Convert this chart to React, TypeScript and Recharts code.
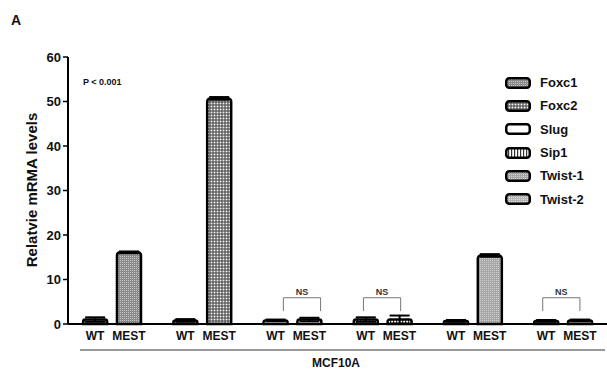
import React from 'react';
import {
  BarChart,
  Bar,
  Cell,
  XAxis,
  YAxis,
  ErrorBar,
  ReferenceLine,
} from 'recharts';

const genes = ['Foxc1', 'Foxc2', 'Slug', 'Sip1', 'Twist-1', 'Twist-2'];
const groups = ['WT', 'MEST'];
const wtValues = [1.0, 0.8, 0.8, 1.0, 0.7, 0.7];
const mestValues = [16.1, 50.7, 1.0, 1.0, 15.4, 0.8];
const wtErr = [0.5, 0.3, 0.2, 0.5, 0.2, 0.2];
const mestErr = [0.2, 0.3, 0.4, 0.9, 0.3, 0.2];
const yTicks = [0, 10, 20, 30, 40, 50, 60];
const nsGenes = ['Slug', 'Sip1', 'Twist-2'];

const patternIds = ['pFoxc1', 'pFoxc2', 'pSlug', 'pSip1', 'pTwist1', 'pTwist2'];

const FONT = '"Liberation Sans", Arial, sans-serif';

// x position of each bar on a numeric axis: 8 units per gene, MEST 3 units after WT
const data = genes.flatMap((g, i) => [
  { pos: i * 8, label: groups[0], gene: g, value: wtValues[i], err: wtErr[i], gi: i },
  { pos: i * 8 + 3, label: groups[1], gene: g, value: mestValues[i], err: mestErr[i], gi: i },
]);

const labelByPos: Record<number, string> = {};
data.forEach((d) => (labelByPos[d.pos] = d.label));

function Patterns() {
  return (
    <svg width={0} height={0} style={{ position: 'absolute' }}>
      <defs>
        <pattern id="pFoxc1" width={2} height={2} patternUnits="userSpaceOnUse">
          <rect width={2} height={2} fill="#8a8a8a" />
          <rect width={1} height={1} fill="#c4c4c4" />
        </pattern>
        <pattern id="pFoxc2" width={3} height={3} patternUnits="userSpaceOnUse">
          <rect width={3} height={3} fill="#3a3a3a" />
          <rect x={0.5} y={0.5} width={2} height={2} fill="#f4f4f4" />
        </pattern>
        <pattern id="pSlug" width={4} height={4} patternUnits="userSpaceOnUse">
          <rect width={4} height={4} fill="#fff" />
        </pattern>
        <pattern id="pSip1" width={3} height={3} patternUnits="userSpaceOnUse">
          <rect width={3} height={3} fill="#fff" />
          <rect width={1.2} height={3} fill="#333" />
        </pattern>
        <pattern id="pTwist1" width={2} height={2} patternUnits="userSpaceOnUse">
          <rect width={2} height={2} fill="#a6a6a6" />
          <rect width={1} height={1} fill="#d0d0d0" />
        </pattern>
        <pattern id="pTwist2" width={2} height={2} patternUnits="userSpaceOnUse">
          <rect width={2} height={2} fill="#b4b4b4" />
          <rect width={1} height={1} fill="#dedede" />
        </pattern>
      </defs>
    </svg>
  );
}

const textBold = { fontFamily: FONT, fontWeight: 700, color: '#111' };

export default function App() {
  return (
    <div style={{ position: 'absolute', left: 0, top: 0, width: 607, height: 372, background: '#fff' }}>
      <Patterns />
      <BarChart
        width={607}
        height={372}
        data={data}
        margin={{ top: 57, right: 0, bottom: 18, left: 18 }}
      >
        <XAxis
          dataKey="pos"
          type="number"
          domain={[-2.4, 45.4]}
          ticks={data.map((d) => d.pos)}
          tickFormatter={(v: number) => labelByPos[v] ?? ''}
          tickLine={false}
          axisLine={{ stroke: '#000', strokeWidth: 2 }}
          tick={{ fill: '#111', fontSize: 12, fontWeight: 700, fontFamily: FONT }}
          tickMargin={1}
          height={30}
          allowDataOverflow
        />
        <YAxis
          domain={[0, 60]}
          ticks={yTicks}
          width={50}
          axisLine={{ stroke: '#000', strokeWidth: 2 }}
          tickLine={{ stroke: '#000', strokeWidth: 1.5 }}
          tickSize={5}
          tick={{ fill: '#111', fontSize: 13, fontWeight: 700, fontFamily: FONT }}
          tickMargin={2}
        />
        <Bar dataKey="value" barSize={24} stroke="#000" strokeWidth={2.5} radius={[3, 3, 0, 0]} isAnimationActive={false}>
          {data.map((d, idx) => (
            <Cell key={idx} fill={`url(#${patternIds[d.gi]})`} />
          ))}
          <ErrorBar dataKey="err" direction="y" width={10} stroke="#000" strokeWidth={2} />
        </Bar>
        {nsGenes.map((g) => {
          const i = genes.indexOf(g);
          const shift = g === 'Slug' ? 0.7 : g === 'Twist-2' ? -0.3 : -0.2;
          const x1 = i * 8 + shift;
          const x2 = i * 8 + 3 + shift + 0.3;
          return (
            <React.Fragment key={g}>
              <ReferenceLine
                segment={[{ x: x1, y: 5.9 }, { x: x2, y: 5.9 }]}
                stroke="#777"
                strokeWidth={1}
                label={{ value: 'NS', position: 'top', fill: '#333', fontSize: 9, fontWeight: 700, fontFamily: FONT, offset: 3 }}
              />
              <ReferenceLine segment={[{ x: x1, y: 5.9 }, { x: x1, y: 2.9 }]} stroke="#777" strokeWidth={1} />
              <ReferenceLine segment={[{ x: x2, y: 5.9 }, { x: x2, y: 2.9 }]} stroke="#777" strokeWidth={1} />
            </React.Fragment>
          );
        })}
      </BarChart>

      <div style={{ ...textBold, position: 'absolute', left: 11, top: 12, fontSize: 14 }}>A</div>
      <div style={{ ...textBold, position: 'absolute', left: 83, top: 77, fontSize: 9 }}>P &lt; 0.001</div>
      <div
        style={{
          ...textBold,
          position: 'absolute',
          left: 31,
          top: 190,
          fontSize: 15,
          whiteSpace: 'nowrap',
          transform: 'translate(-50%, -50%) rotate(-90deg)',
        }}
      >
        Relatvie mRMA levels
      </div>
      <div style={{ position: 'absolute', left: 80, top: 349, width: 525, height: 2, background: '#999' }} />
      <div style={{ ...textBold, position: 'absolute', left: 312, top: 356, fontSize: 12 }}>MCF10A</div>

      <div style={{ position: 'absolute', left: 505, top: 71 }}>
        {genes.map((g, i) => (
          <div key={g} style={{ display: 'flex', alignItems: 'center', height: 23.3 }}>
            <svg width={26} height={12} style={{ marginRight: 9 }}>
              <rect x={1.25} y={1.25} width={23.5} height={9.5} rx={3} fill={`url(#${patternIds[i]})`} stroke="#000" strokeWidth={2.5} />
            </svg>
            <span style={{ ...textBold, fontSize: 13 }}>{g}</span>
          </div>
        ))}
      </div>
    </div>
  );
}
